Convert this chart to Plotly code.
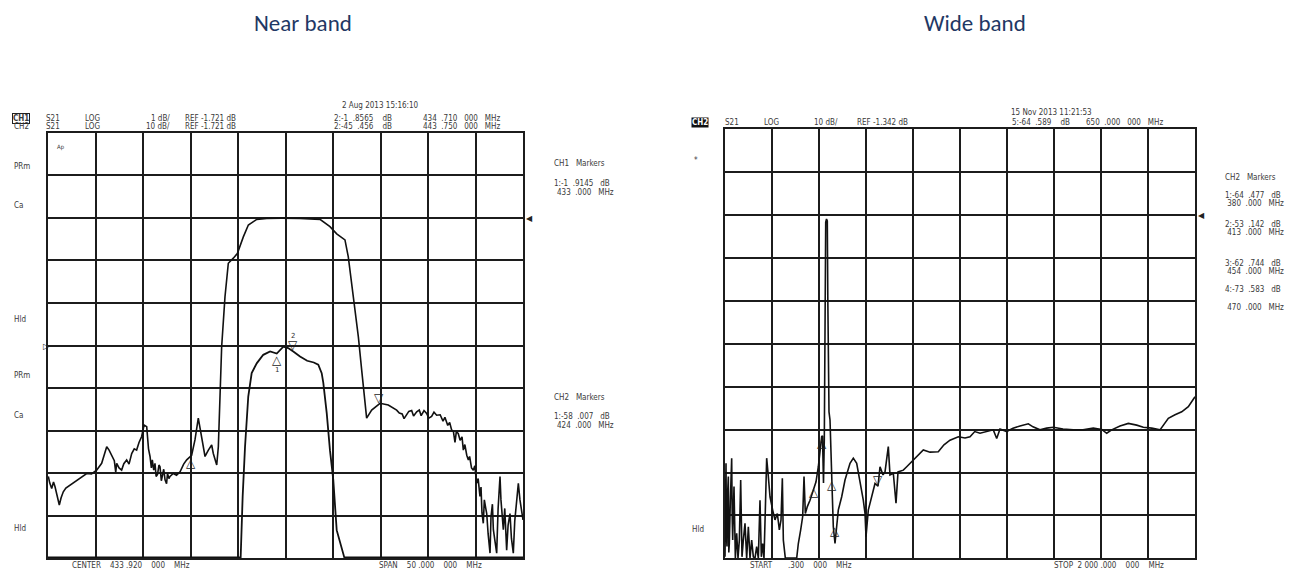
import plotly.graph_objects as go

W, H = 1293, 571

# ---------------- Near band (left) data ----------------
near_center_mhz = 433.92
near_span_mhz = 50.0
near_start = near_center_mhz - near_span_mhz / 2
near_stop = near_center_mhz + near_span_mhz / 2
ch1_ref_db = -1.721   # 1 dB/div
ch2_ref_db = -1.721   # 10 dB/div

# CH2 (10 dB/div) wide-range response of filter
near_ch2_mhz = [408.955, 409.1, 409.31, 409.5, 409.66, 409.9, 410.11, 410.3, 410.53, 410.8, 411.23,
                411.6, 411.94, 412.3, 412.99, 413.5, 414.04, 414.57, 414.8, 415.10, 415.35, 415.62,
                415.9, 416.05, 416.15, 416.4, 416.67, 416.9, 417.20, 417.45, 417.73, 418.0, 418.25,
                418.5, 418.78, 419.03, 419.31, 419.5, 419.66, 419.8, 419.9, 420.05, 420.18, 420.3,
                420.45, 420.6, 420.71, 420.85, 420.95, 421.1, 421.24, 421.4, 421.5, 421.65, 421.76,
                422.11, 422.45, 422.82, 423.2, 423.52, 424.04, 424.39, 424.74, 425.09, 425.45, 425.8,
                426.15, 426.32, 426.68, 426.85, 427.20, 427.55, 427.90, 428.43, 428.85, 429.48,
                430.01, 430.89, 431.94, 433.5, 435.45, 437.55, 438.60, 439.31, 440.18, 440.53,
                441.06, 441.59, 441.94, 442.46, 442.99, 443.87, 444.74, 445.62, 445.9, 446.2, 446.4,
                446.67, 446.9, 447.2, 447.4, 447.73, 448.0, 448.2, 448.5, 448.78, 449.0, 449.3,
                449.55, 449.83, 450.2, 450.5, 450.7, 451.0, 451.2, 451.4, 451.6, 451.76, 451.9,
                452.1, 452.3, 452.5, 452.64, 452.8, 453.0, 453.17, 453.3, 453.5, 453.69, 453.85,
                454.04, 454.2, 454.39, 454.5, 454.6, 454.74, 454.85, 455.0, 455.1, 455.25, 455.45,
                455.55, 455.7, 455.8, 455.95, 456.15, 456.3, 456.5, 456.6, 456.75, 456.85, 457.0,
                457.2, 457.35, 457.55, 457.7, 457.9, 458.05, 458.25, 458.43, 458.6, 458.78, 458.92]
near_ch2_db = [-62.5, -64.0, -65.3, -63.8, -64.9, -67.0, -69.2, -67.5, -66.1, -65.2, -64.5,
               -64.0, -63.3, -62.9, -61.8, -61.9, -61.0, -59.4, -57.5, -55.5, -56.3, -57.5,
               -58.8, -61.5, -59.4, -60.5, -61.0, -59.5, -58.6, -59.6, -57.1, -56.0, -56.3,
               -54.5, -53.1, -50.4, -50.8, -56.0, -57.8, -60.5, -58.6, -61.0, -59.4, -62.5,
               -62.0, -59.8, -60.2, -63.5, -62.5, -60.8, -63.3, -64.2, -61.8, -63.0, -62.5,
               -61.8, -62.2, -61.4, -59.6, -58.6, -57.5, -53.9, -48.8, -53.1, -57.8, -56.3,
               -55.1, -57.1, -59.8, -55.5, -32.0, -20.3, -12.4, -11.2, -10.1, -6.2,
               -3.4, -2.1, -1.84, -1.80, -1.84, -2.08, -3.8, -5.5, -6.9, -10.9,
               -20.3, -29.7, -37.5, -48.8, -46.9, -45.3, -45.7, -46.9, -47.6, -47.8, -48.9,
               -48.1, -47.2, -47.0, -48.3, -47.3, -46.9, -48.2, -47.0, -47.7, -48.8, -48.4,
               -47.4, -48.1, -48.0, -49.5, -48.6, -50.5, -49.8, -51.5, -52.0, -54.5, -52.0,
               -52.4, -54.0, -53.2, -56.3, -55.0, -57.5, -58.6, -57.8, -60.5, -61.0, -60.0,
               -64.1, -63.0, -67.2, -65.0, -71.0, -73.5, -68.0, -70.0, -71.2, -76.0, -80.5,
               -72.0, -69.0, -75.0, -78.0, -80.5, -70.0, -62.5, -68.0, -73.0, -75.0, -70.0,
               -79.8, -74.0, -71.2, -77.0, -80.5, -73.0, -67.2, -64.1, -68.0, -71.2, -72.7]

# CH1 (1 dB/div) passband detail; trace sits on the bottom line where below scale
near_ch1_mhz = [408.92, 429.2, 429.41, 429.66, 430.0, 430.36, 430.89, 431.58, 432.3, 433.0,
                433.69, 434.2, 434.74, 435.45, 436.2, 436.9, 437.37, 437.73, 437.9, 438.26,
                438.6, 438.95, 439.31, 439.66, 440.0, 440.11, 458.92]
near_ch1_db = [-6.70, -6.70, -5.27, -4.10, -2.92, -2.37, -2.14, -1.94, -1.86, -1.91,
               -1.75, -1.78, -1.86, -1.98, -2.08, -2.12, -2.17, -2.37, -2.60, -3.31,
               -4.18, -4.88, -6.06, -6.37, -6.60, -6.70, -6.70]

# marker readouts
near_ch1_markers_mhz = [433.0, 434.71]
near_ch1_markers_db = [-1.9145, -1.8565]
near_ch2_markers_mhz = [424.0, 443.75]
near_ch2_markers_db = [-58.007, -45.456]

# ---------------- Wide band (right) data ----------------
wide_start = 0.3
wide_stop = 2000.0
wide_ref_db = -1.342   # 10 dB/div

wide_mhz = [0.3, 2.5, 4.55, 6.5, 8.8, 11.5, 14.5, 16.5, 18.7, 23.0, 28.7, 31.0, 33.0, 36.0, 38.6,
            44.3, 50.0, 55.6, 61.3, 67.0, 72.6, 78.3,
            85.4, 92.5, 99.6, 106.7, 113.8, 120.8, 127.9, 135.0, 142.1, 149.2, 154.9, 160.5, 166.2,
            171.9, 177.6, 184.7, 191.8, 203.1, 213.0, 223.0, 231.5, 238.6, 244.3, 248.5, 257.0,
            305.3, 312.3, 322.3, 330.8, 336.5, 342.1, 350.6, 362.0, 376.2, 387.5, 397.4, 404.5,
            411.6, 415.1, 419.4, 422.8, 425.8, 428.8, 432.2, 435.6, 437.8, 439.9, 442.8, 447.1,
            454.0, 461.1, 468.3, 474.7, 482.3, 496.8, 510.9, 532.2, 546.2, 560.6, 574.7, 588.7,
            596.0, 600.2, 610.0, 624.5, 638.5, 651.3, 659.8, 672.5, 681.1, 695.1, 702.3, 716.4,
            727.9, 736.4, 759.0, 773.4, 787.4, 801.4, 815.9, 829.9, 844.0, 872.5, 907.8, 932.0,
            957.6, 993.0, 1021.5, 1042.7, 1063.0, 1085.3, 1141.9, 1156.3, 1170.3, 1198.9, 1225.7,
            1255.4, 1290.8, 1310.8, 1340.5, 1369.0, 1397.1, 1438.4, 1482.2, 1523.5, 1567.3,
            1603.0, 1624.3, 1645.6, 1680.9, 1716.3, 1752.0, 1780.1, 1815.8, 1851.1, 1865.2,
            1886.5, 1915.0, 1943.5, 1971.6, 1992.9, 2000.0]
wide_db = [-81.0, -70.0, -59.2, -76.0, -78.6, -66.0, -62.3, -80.0, -77.9, -68.0, -58.0, -72.0,
           -77.1, -70.0, -64.6,
           -81.3, -75.5, -81.3, -77.1, -63.1,
           -81.0, -77.1, -73.2, -81.3, -74.0, -81.3, -77.1, -81.0, -81.3, -78.6, -81.3, -67.8,
           -81.0, -77.9, -81.3, -70.1, -58.0, -62.3, -67.0, -70.1, -72.4, -70.9, -74.7, -72.4,
           -62.7, -77.1, -81.3, -81.3, -77.9, -74.7, -71.6, -62.3, -70.9, -69.3, -67.8, -65.4,
           -63.5, -60.0, -56.1, -53.0, -52.8, -63.8, -53.8, -21.2, -3.0, -2.25, -2.7, -21.2,
           -45.8, -47.2, -49.1, -63.1, -74.0, -77.9, -74.8, -70.1, -67.0, -63.1, -59.2, -58.0,
           -59.2, -63.1, -67.8, -70.9, -76.3, -70.1, -67.0, -63.9, -64.5, -60.0, -61.9, -61.2,
           -55.3, -61.9, -61.5, -68.5, -61.2, -60.8, -60.0, -59.2, -58.4, -57.7, -56.9, -56.1,
           -56.6, -56.5, -54.9, -53.8, -53.0, -53.3, -53.0, -51.8, -52.2, -51.4, -53.4, -51.2,
           -51.8, -51.0, -50.5, -50.0, -50.7, -51.4, -51.0, -50.8, -51.2, -51.4, -51.4, -51.0,
           -51.3, -52.2, -51.4, -50.5, -49.9, -50.3, -50.8, -51.0, -51.4, -50.3, -48.7, -47.9,
           -47.2, -46.0, -44.1, -43.7]

wide_markers_mhz = [380.0, 413.0, 454.0, 470.0, 650.0]
wide_markers_db = [-64.477, -53.142, -62.744, -73.583, -64.589]

# ---------------- figure ----------------
def PX(px):
    return px / W

def PY(py):
    return 1 - py / H

GRID = "#1c1c1c"
TXT = "#3a3a3a"
SMALL = dict(family="Liberation Sans Narrow, DejaVu Sans Condensed, Liberation Sans, sans-serif",
             size=8, color=TXT)

fig = go.Figure()

fig.add_trace(go.Scatter(x=near_ch2_mhz, y=near_ch2_db, mode="lines", xaxis="x", yaxis="y",
                         line=dict(color="#111111", width=1.6), showlegend=False, hoverinfo="skip"))
fig.add_trace(go.Scatter(x=near_ch1_mhz, y=near_ch1_db, mode="lines", xaxis="x", yaxis="y2",
                         line=dict(color="#111111", width=1.8), showlegend=False, hoverinfo="skip"))
fig.add_trace(go.Scatter(x=wide_mhz, y=wide_db, mode="lines", xaxis="x3", yaxis="y3",
                         line=dict(color="#111111", width=1.6), showlegend=False, hoverinfo="skip"))

axis_common = dict(showgrid=True, gridcolor=GRID, gridwidth=2, showticklabels=False, ticks="",
                   zeroline=False, showline=True, mirror=True, linecolor=GRID, linewidth=2,
                   fixedrange=True)

fig.update_layout(
    width=W, height=H, margin=dict(l=0, r=0, t=0, b=0),
    paper_bgcolor="white", plot_bgcolor="white", showlegend=False,
    xaxis=dict(domain=[PX(48), PX(523)], range=[near_start, near_stop], tick0=near_start,
               dtick=near_span_mhz / 10, anchor="y", **axis_common),
    yaxis=dict(domain=[PY(558.3), PY(132.7)], range=[ch2_ref_db - 80, ch2_ref_db + 20],
               tick0=ch2_ref_db, dtick=10, anchor="x", **axis_common),
    yaxis2=dict(overlaying="y", range=[ch1_ref_db - 5, ch1_ref_db + 5], visible=False,
                anchor="x", fixedrange=True),
    xaxis3=dict(domain=[PX(725), PX(1195)], range=[wide_start, wide_stop], tick0=wide_start,
                dtick=(wide_stop - wide_start) / 10, anchor="y3", **axis_common),
    yaxis3=dict(domain=[PY(558.3), PY(129.3)], range=[wide_ref_db - 80, wide_ref_db + 20],
                tick0=wide_ref_db, dtick=10, anchor="x3", **axis_common),
)

ann = []

def txt(px, py, s, anchor="left", font=None, **kw):
    ann.append(dict(x=PX(px), y=PY(py), xref="paper", yref="paper", text=s, showarrow=False,
                    xanchor=anchor, yanchor="middle", font=font or SMALL, **kw))

TITLE = dict(family="Carlito, Open Sans, Noto Sans, sans-serif", size=23, color="#1F3864")
txt(303, 23, "Near band", anchor="center", font=TITLE)
txt(975, 23, "Wide band", anchor="center", font=TITLE)

# left header
txt(340, 105, "2 Aug 2013 15:16:10")
txt(12, 118.5, "<b>CH1</b>", bordercolor="#222", borderwidth=1, borderpad=0)
txt(12, 126, "CH2")
for py in (118.5, 126):
    txt(44, py, "S21")
    txt(83, py, "LOG")
    txt(183, py, "REF -1.721 dB")
txt(172, 118.5, "1 dB/", anchor="right")
txt(172, 126, "10 dB/", anchor="right")
txt(332, 118.5, "2:-1  .8565    dB")
txt(332, 126, "2:-45  .456    dB")
txt(421, 118.5, "434  .710   000   MHz")
txt(421, 126, "443  .750   000   MHz")

# left side softkey labels
for py, s in [(166, "PRm"), (205, "Ca"), (319, "Hld"), (376, "PRm"), (415, "Ca"), (528, "Hld")]:
    txt(12, py, s)
txt(55, 147, "Ap", font=dict(family=SMALL["family"], size=6, color=TXT))

# left marker tables
txt(552, 164, "CH1   Markers")
txt(552, 183, "1:-1  .9145   dB")
txt(555, 192, "433  .000   MHz")
txt(552, 397, "CH2   Markers")
txt(552, 416, "1:-58  .007   dB")
txt(555, 425, "424  .000   MHz")

# left footer
txt(70, 565, "CENTER    433 .920    000    MHz")
txt(377, 565, "SPAN    50 .000    000    MHz")

# right header
txt(1009, 113, "15 Nov 2013 11:21:53")
txt(691, 122.5, "<b>CH2</b>", font=dict(family=SMALL["family"], size=8, color="white"),
    bgcolor="#111", borderpad=0)
txt(723, 122.5, "S21")
txt(762, 122.5, "LOG")
txt(840, 122.5, "10 dB/", anchor="right")
txt(855, 122.5, "REF -1.342 dB")
txt(1010, 122.5, "5:-64  .589    dB")
txt(1084, 122.5, "650  .000   000   MHz")
txt(692, 160, "*")
txt(690, 529, "Hld")

# right marker table
txt(1223, 177, "CH2   Markers")
rows = [(195, "1:-64  .477   dB"), (204, " 380  .000   MHz"),
        (224, "2:-53  .142   dB"), (233, " 413  .000   MHz"),
        (263, "3:-62  .744   dB"), (271, " 454  .000   MHz"),
        (289, "4:-73  .583   dB"), (307, " 470  .000   MHz")]
for py, s in rows:
    txt(1223, py, s)

txt(748, 565, "START       .300    000    MHz")
txt(1052, 565, "STOP  2 000 .000    000    MHz")

# reference position arrows
ARW = dict(family="DejaVu Sans", size=8, color="#222")
txt(41, 346, "▷", font=ARW)
txt(524, 218, "◀", font=ARW)
txt(1196, 215, "◀", font=ARW)

# marker triangles at the marker readout positions
MK = dict(family="DejaVu Sans", size=12, color="#222")
MKN = dict(family="DejaVu Sans", size=7, color="#333333")

def marker(xa, ya, x, y, active, label):
    if active:
        ann.append(dict(x=x, y=y, xref=xa, yref=ya, text="▽", showarrow=False,
                        xanchor="center", yanchor="bottom", yshift=-3, font=MK))
        ann.append(dict(x=x, y=y, xref=xa, yref=ya, text=label, showarrow=False,
                        xanchor="center", yanchor="bottom", yshift=9, font=MKN))
    else:
        ann.append(dict(x=x, y=y, xref=xa, yref=ya, text="△", showarrow=False,
                        xanchor="center", yanchor="top", yshift=3, font=MK))
        ann.append(dict(x=x, y=y, xref=xa, yref=ya, text=label, showarrow=False,
                        xanchor="center", yanchor="top", yshift=-10, font=MKN))

marker("x", "y2", near_ch1_markers_mhz[0], near_ch1_markers_db[0], False, "1")
marker("x", "y2", near_ch1_markers_mhz[1], near_ch1_markers_db[1], True, "2")
marker("x", "y", near_ch2_markers_mhz[0], near_ch2_markers_db[0], False, "")
marker("x", "y", near_ch2_markers_mhz[1], near_ch2_markers_db[1], True, "")
for i, (mx, my) in enumerate(zip(wide_markers_mhz, wide_markers_db)):
    marker("x3", "y3", mx, my, i == 4, "")

fig.update_layout(annotations=ann)
fig.write_html("out.html", config={"displayModeBar": False},
               post_script="document.body.style.margin='0';document.body.style.overflow='hidden';")
